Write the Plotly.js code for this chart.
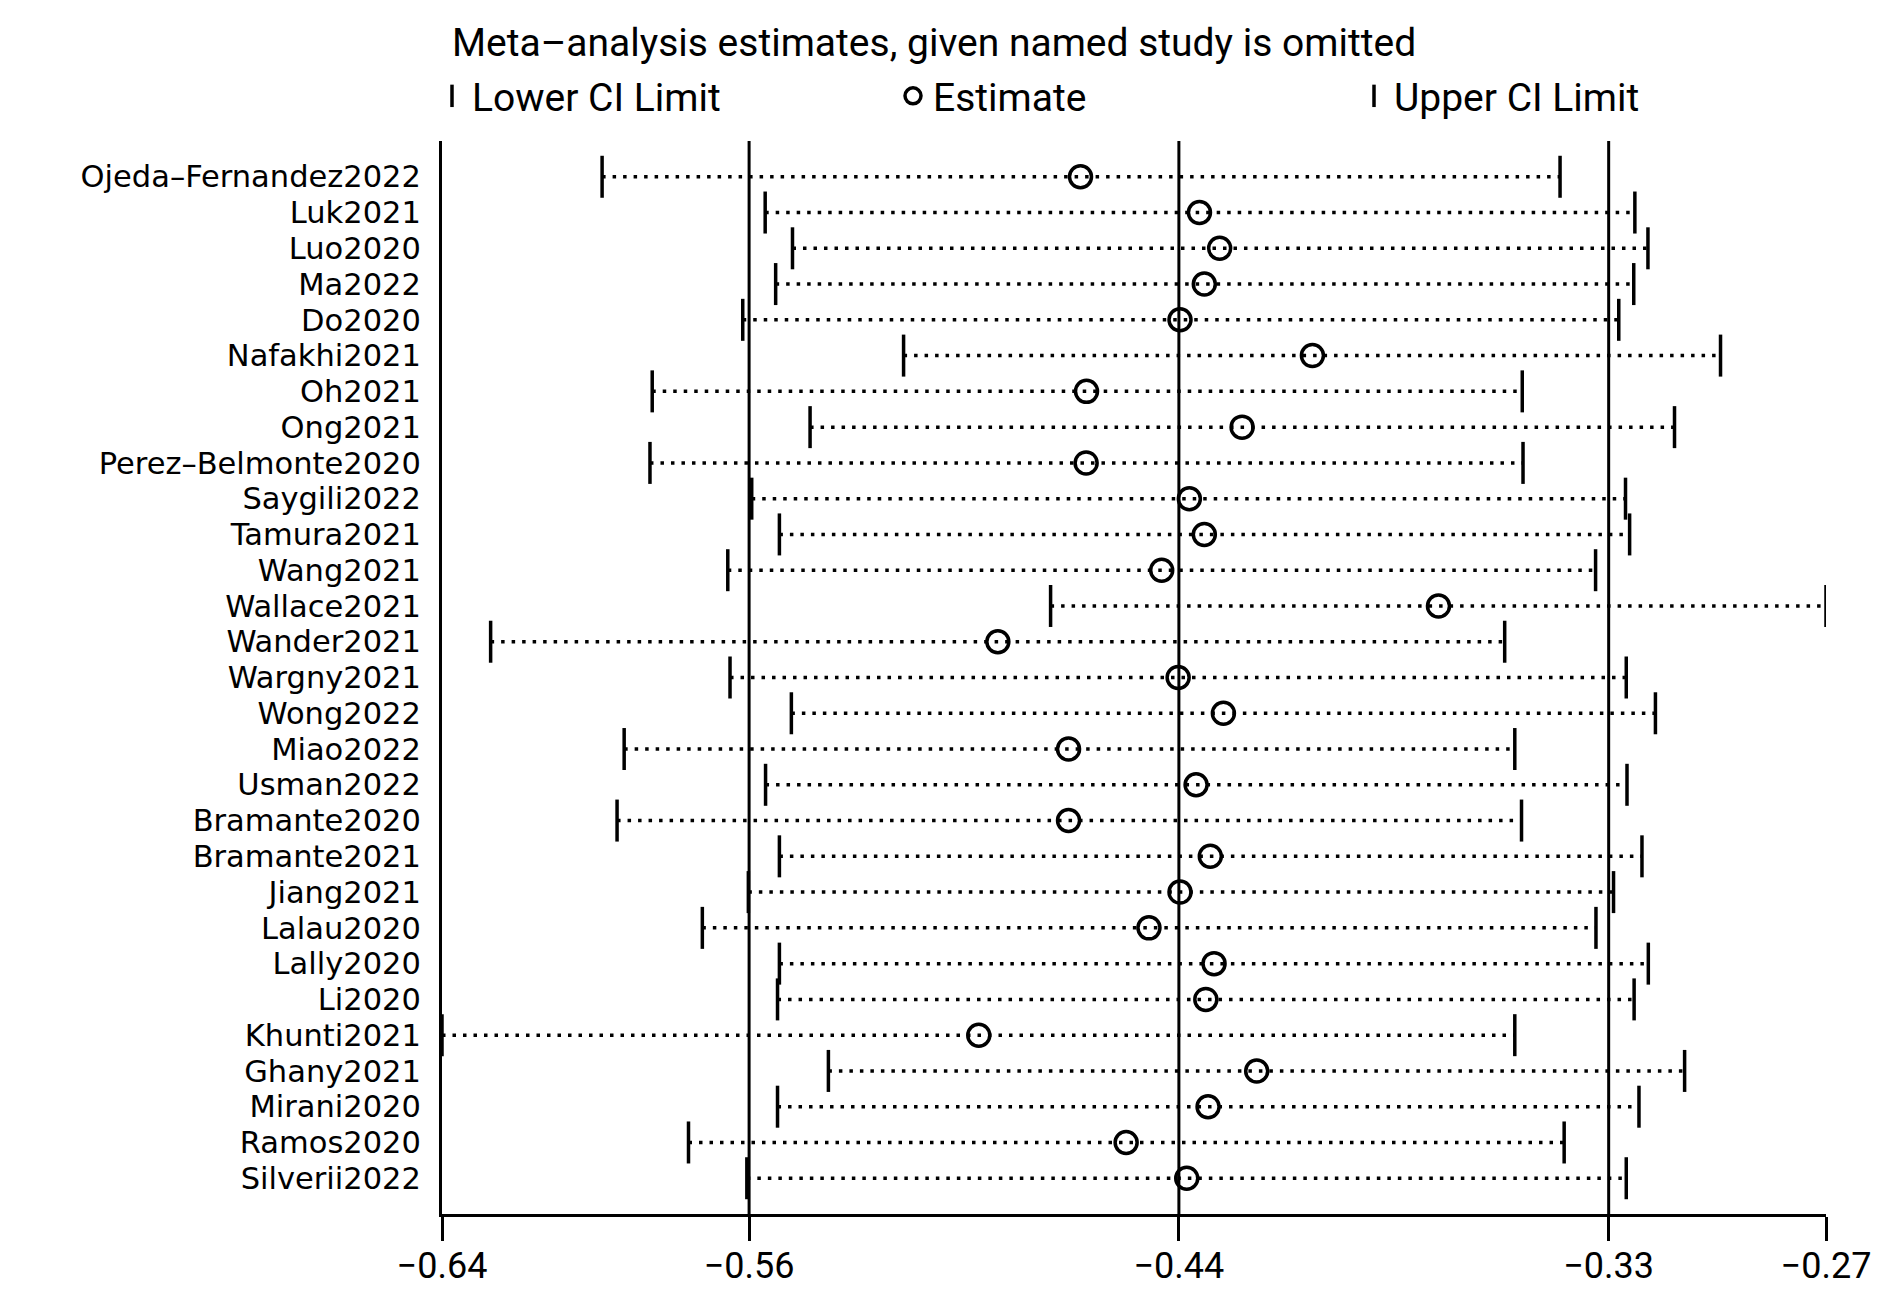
<!DOCTYPE html>
<html>
<head>
<meta charset="utf-8">
<script src="https://cdn.plot.ly/plotly-3.0.1.min.js"></script>
<style>html,body{margin:0;padding:0;background:#fff;}#chart{width:1901px;height:1296px;}</style>
</head>
<body>
<div id="chart"></div>
<script>
const studies = ["Ojeda\u2013Fernandez2022","Luk2021","Luo2020","Ma2022","Do2020","Nafakhi2021","Oh2021","Ong2021","Perez\u2013Belmonte2020","Saygili2022","Tamura2021","Wang2021","Wallace2021","Wander2021","Wargny2021","Wong2022","Miao2022","Usman2022","Bramante2020","Bramante2021","Jiang2021","Lalau2020","Lally2020","Li2020","Khunti2021","Ghany2021","Mirani2020","Ramos2020","Silverii2022"];
const lowerCI = [-0.5972,-0.5536,-0.5463,-0.5508,-0.5596,-0.5166,-0.5838,-0.5416,-0.5844,-0.5572,-0.5498,-0.5636,-0.4773,-0.6270,-0.5630,-0.5466,-0.5913,-0.5535,-0.5932,-0.5498,-0.5581,-0.5704,-0.5498,-0.5503,-0.6400,-0.5367,-0.5503,-0.5741,-0.5585];
const estimate = [-0.4693,-0.4375,-0.4321,-0.4362,-0.4427,-0.4073,-0.4677,-0.4261,-0.4678,-0.4402,-0.4362,-0.4476,-0.3736,-0.4914,-0.4432,-0.4311,-0.4725,-0.4384,-0.4725,-0.4346,-0.4427,-0.4510,-0.4336,-0.4358,-0.4965,-0.4222,-0.4352,-0.4571,-0.4409];
const upperCI = [-0.3411,-0.3211,-0.3176,-0.3214,-0.3254,-0.2982,-0.3512,-0.3105,-0.3510,-0.3236,-0.3225,-0.3316,-0.2700,-0.3559,-0.3234,-0.3156,-0.3532,-0.3232,-0.3514,-0.3192,-0.3268,-0.3315,-0.3175,-0.3213,-0.3532,-0.3078,-0.3200,-0.3400,-0.3234];
const overallCI = [-0.5579, -0.4430, -0.3281];
const tickValues = [-0.64, -0.5579, -0.4430, -0.3281, -0.27];
const tickLabels = ["\u22120.64", "\u22120.56", "\u22120.44", "\u22120.33", "\u22120.27"];
const titleText = "Meta\u2013analysis estimates, given named study is omitted";

const condensed = "Roboto, 'Liberation Sans', sans-serif";
const labelFont = "'DejaVu Sans', Verdana, sans-serif";

const segX = [], segY = [];
studies.forEach((s, i) => { segX.push(lowerCI[i], upperCI[i], null); segY.push(s, s, null); });

const traces = [
  {type:'scatter', mode:'lines', x:segX, y:segY, showlegend:false, hoverinfo:'skip',
   line:{color:'#000', width:3.5, dash:'3.5px,7px'}},
  {type:'scatter', mode:'markers', name:'Lower CI Limit', x:lowerCI, y:studies,
   marker:{symbol:'line-ns-open', size:30, color:'#000', line:{color:'#000', width:3.5}}},
  {type:'scatter', mode:'markers', name:'Estimate', x:estimate, y:studies,
   marker:{symbol:'circle-open', size:22, color:'#000', line:{color:'#000', width:3.5}}},
  {type:'scatter', mode:'markers', name:'Upper CI Limit', x:upperCI, y:studies,
   marker:{symbol:'line-ns-open', size:30, color:'#000', line:{color:'#000', width:3.5}}}
];

const shapes = overallCI.map(v => ({type:'line', xref:'x', yref:'paper', x0:v, x1:v, y0:0, y1:1,
  line:{color:'#000', width:3}}));

const layout = {
  width:1901, height:1296,
  margin:{l:442, r:75, t:141, b:82},
  paper_bgcolor:'#fff', plot_bgcolor:'#fff',
  title:{text:titleText, xref:'container', yref:'container', x:452/1901, xanchor:'left',
         y:1-42/1296, yanchor:'middle', font:{family:condensed, size:39, color:'#000'}},
  showlegend:true,
  legend:{orientation:'h', xref:'container', yref:'container', x:432/1901, xanchor:'left',
          y:1-96/1296, yanchor:'middle', entrywidth:416, entrywidthmode:'pixels',
          font:{family:condensed, size:39, color:'#000'}, itemsizing:'trace', bgcolor:'rgba(0,0,0,0)'},
  xaxis:{range:[-0.64, -0.27], showgrid:false, zeroline:false, showline:true, linecolor:'#000', linewidth:3,
         ticks:'outside', ticklen:24, tickwidth:3, tickcolor:'#000', ticklabelstandoff:-6,
         tickmode:'array', tickvals:tickValues, ticktext:tickLabels,
         tickfont:{family:condensed, size:36, color:'#000'}, fixedrange:true},
  yaxis:{type:'category', categoryorder:'array', categoryarray:studies, range:[29.0, -1.0],
         tickmode:'array', tickvals:studies, ticktext:studies,
         showgrid:false, zeroline:false, showline:true, linecolor:'#000', linewidth:3,
         ticks:'', ticklabelstandoff:12,
         tickfont:{family:labelFont, size:30.5, color:'#000'}, fixedrange:true},
  shapes:shapes
};

Plotly.newPlot('chart', traces, layout, {displayModeBar:false, staticPlot:true});
</script>
</body>
</html>
